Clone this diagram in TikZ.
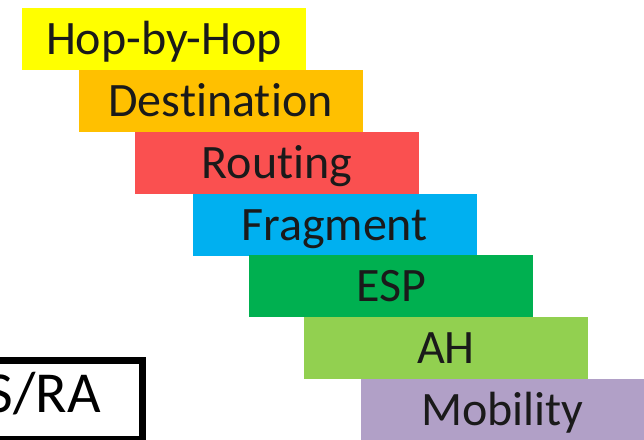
\documentclass[tikz,border=0pt]{standalone}
\usepackage{fontspec}
\setmainfont[Ligatures=NoCommon]{Carlito}
\definecolor{hdrYellow}{HTML}{FFFF00}
\definecolor{hdrOrange}{HTML}{FFC000}
\definecolor{hdrRed}{HTML}{FA5050}
\definecolor{hdrBlue}{HTML}{00B0F0}
\definecolor{hdrGreen}{HTML}{00B050}
\definecolor{hdrLime}{HTML}{92D050}
\definecolor{hdrLavender}{HTML}{B1A0C7}
\definecolor{hdrText}{HTML}{1A1A1A}
\tikzset{
  hdr/.style={fill=#1, draw=none, rectangle, inner sep=0pt,
    minimum width=284pt, minimum height=62pt,
    text height=31pt, text depth=0pt,
    font=\fontsize{48pt}{48pt}\selectfont, text=hdrText},
  msgbox/.style={draw=black, line width=7pt, fill=white, rectangle}
}
\begin{document}
\begin{tikzpicture}[x=1pt, y=-1pt]
  \useasboundingbox (0,0) rectangle (644,439);
  \clip (0,0) rectangle (644,439);
  \fill[white] (0,0) rectangle (644,439);

  % extension headers, stepped down to the right
  \node[hdr=hdrYellow]   (hbh)  at (164,39)    {Hop-by-Hop};
  \node[hdr=hdrOrange]   (dst)  at (220.5,101) {Destination};
  \node[hdr=hdrRed]      (rt)   at (277,162.5) {Routing};
  \node[hdr=hdrBlue]     (frag) at (334.5,224.5) {Fragment};
  \node[hdr=hdrGreen]    (esp)  at (391,286)   {ESP};
  \node[hdr=hdrLime]     (ah)   at (446,348)   {AH};
  \node[hdr=hdrLavender, minimum width=283pt, minimum height=61pt] (mob) at (502.5,409.5) {Mobility};

  % router solicitation / advertisement box, running off the left edge
  \node[msgbox, minimum width=195pt, minimum height=79pt, anchor=north west,
        inner sep=0pt] (rsra) at (-56.5,356.5) {};
  \node[anchor=base east, inner sep=0pt, font=\fontsize{58pt}{58pt}\selectfont]
        (rsratext) at (101,412) {RS/RA};
\end{tikzpicture}
\end{document}
